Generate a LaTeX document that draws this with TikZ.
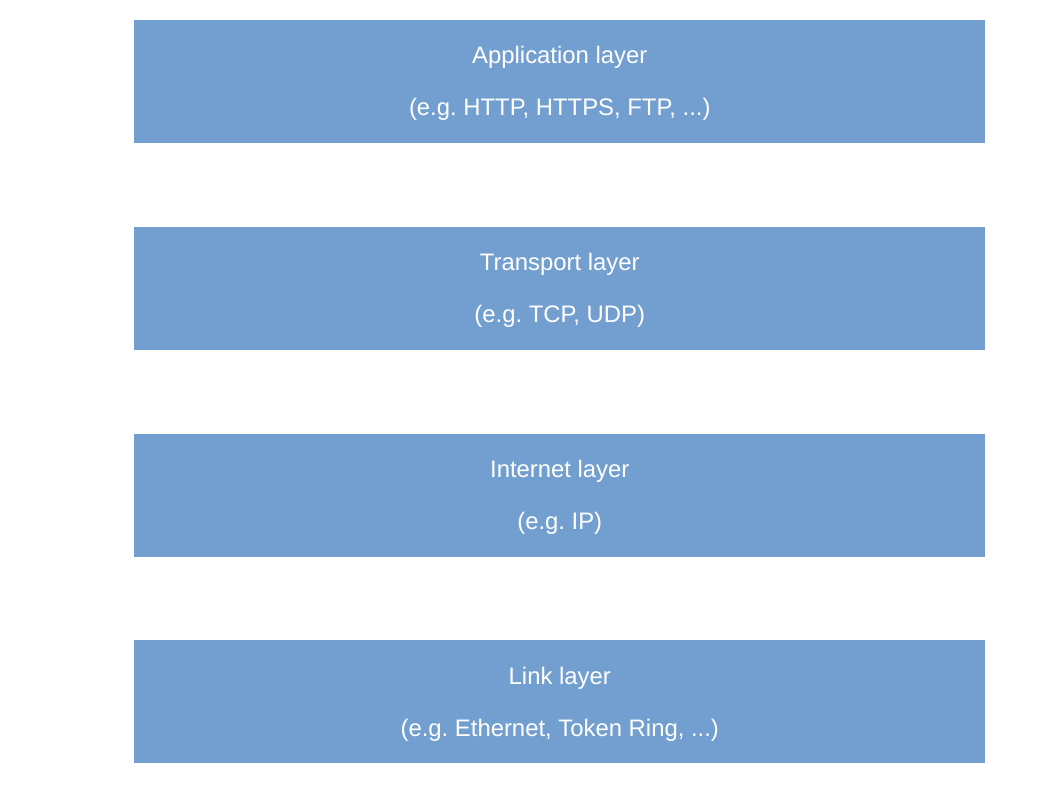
\documentclass[tikz,border=0pt]{standalone}
\usepackage{fontspec}
\setmainfont{Liberation Sans}
\frenchspacing
\usepackage{tikz}
\usetikzlibrary{positioning}
\definecolor{layerblue}{HTML}{729FCF}
\newcommand{\layertxt}[2]{\rule{0pt}{16pt}#1\\#2} % name of the layer, then its protocols
\tikzset{
node distance=62.4pt, % vertical gap between two layers
layer/.style={fill=layerblue, draw=none, text=white, inner sep=0pt,
  minimum width=638.25pt, minimum height=92.25pt, align=center,
  font=\fontsize{17.9}{39}\selectfont}, % sets the look of each layer box
}

\begin{document}
\begin{tikzpicture}
    \useasboundingbox (0,0) rectangle (793.5pt,-595.5pt);
    \node [layer, anchor=north west] (app) at (100.5pt,-15pt) {\layertxt{Application layer}{(e.g. HTTP, HTTPS, FTP, ...)}};
    \node [layer, below=of app] (trans) {\layertxt{Transport layer}{(e.g. TCP, UDP)}};
    \node [layer, below=of trans] (inet) {\layertxt{Internet layer}{(e.g. IP)}};
    \node [layer, below=of inet] (link) {\layertxt{Link layer}{(e.g. Ethernet, Token Ring, ...)}};
\end{tikzpicture}
\end{document}
